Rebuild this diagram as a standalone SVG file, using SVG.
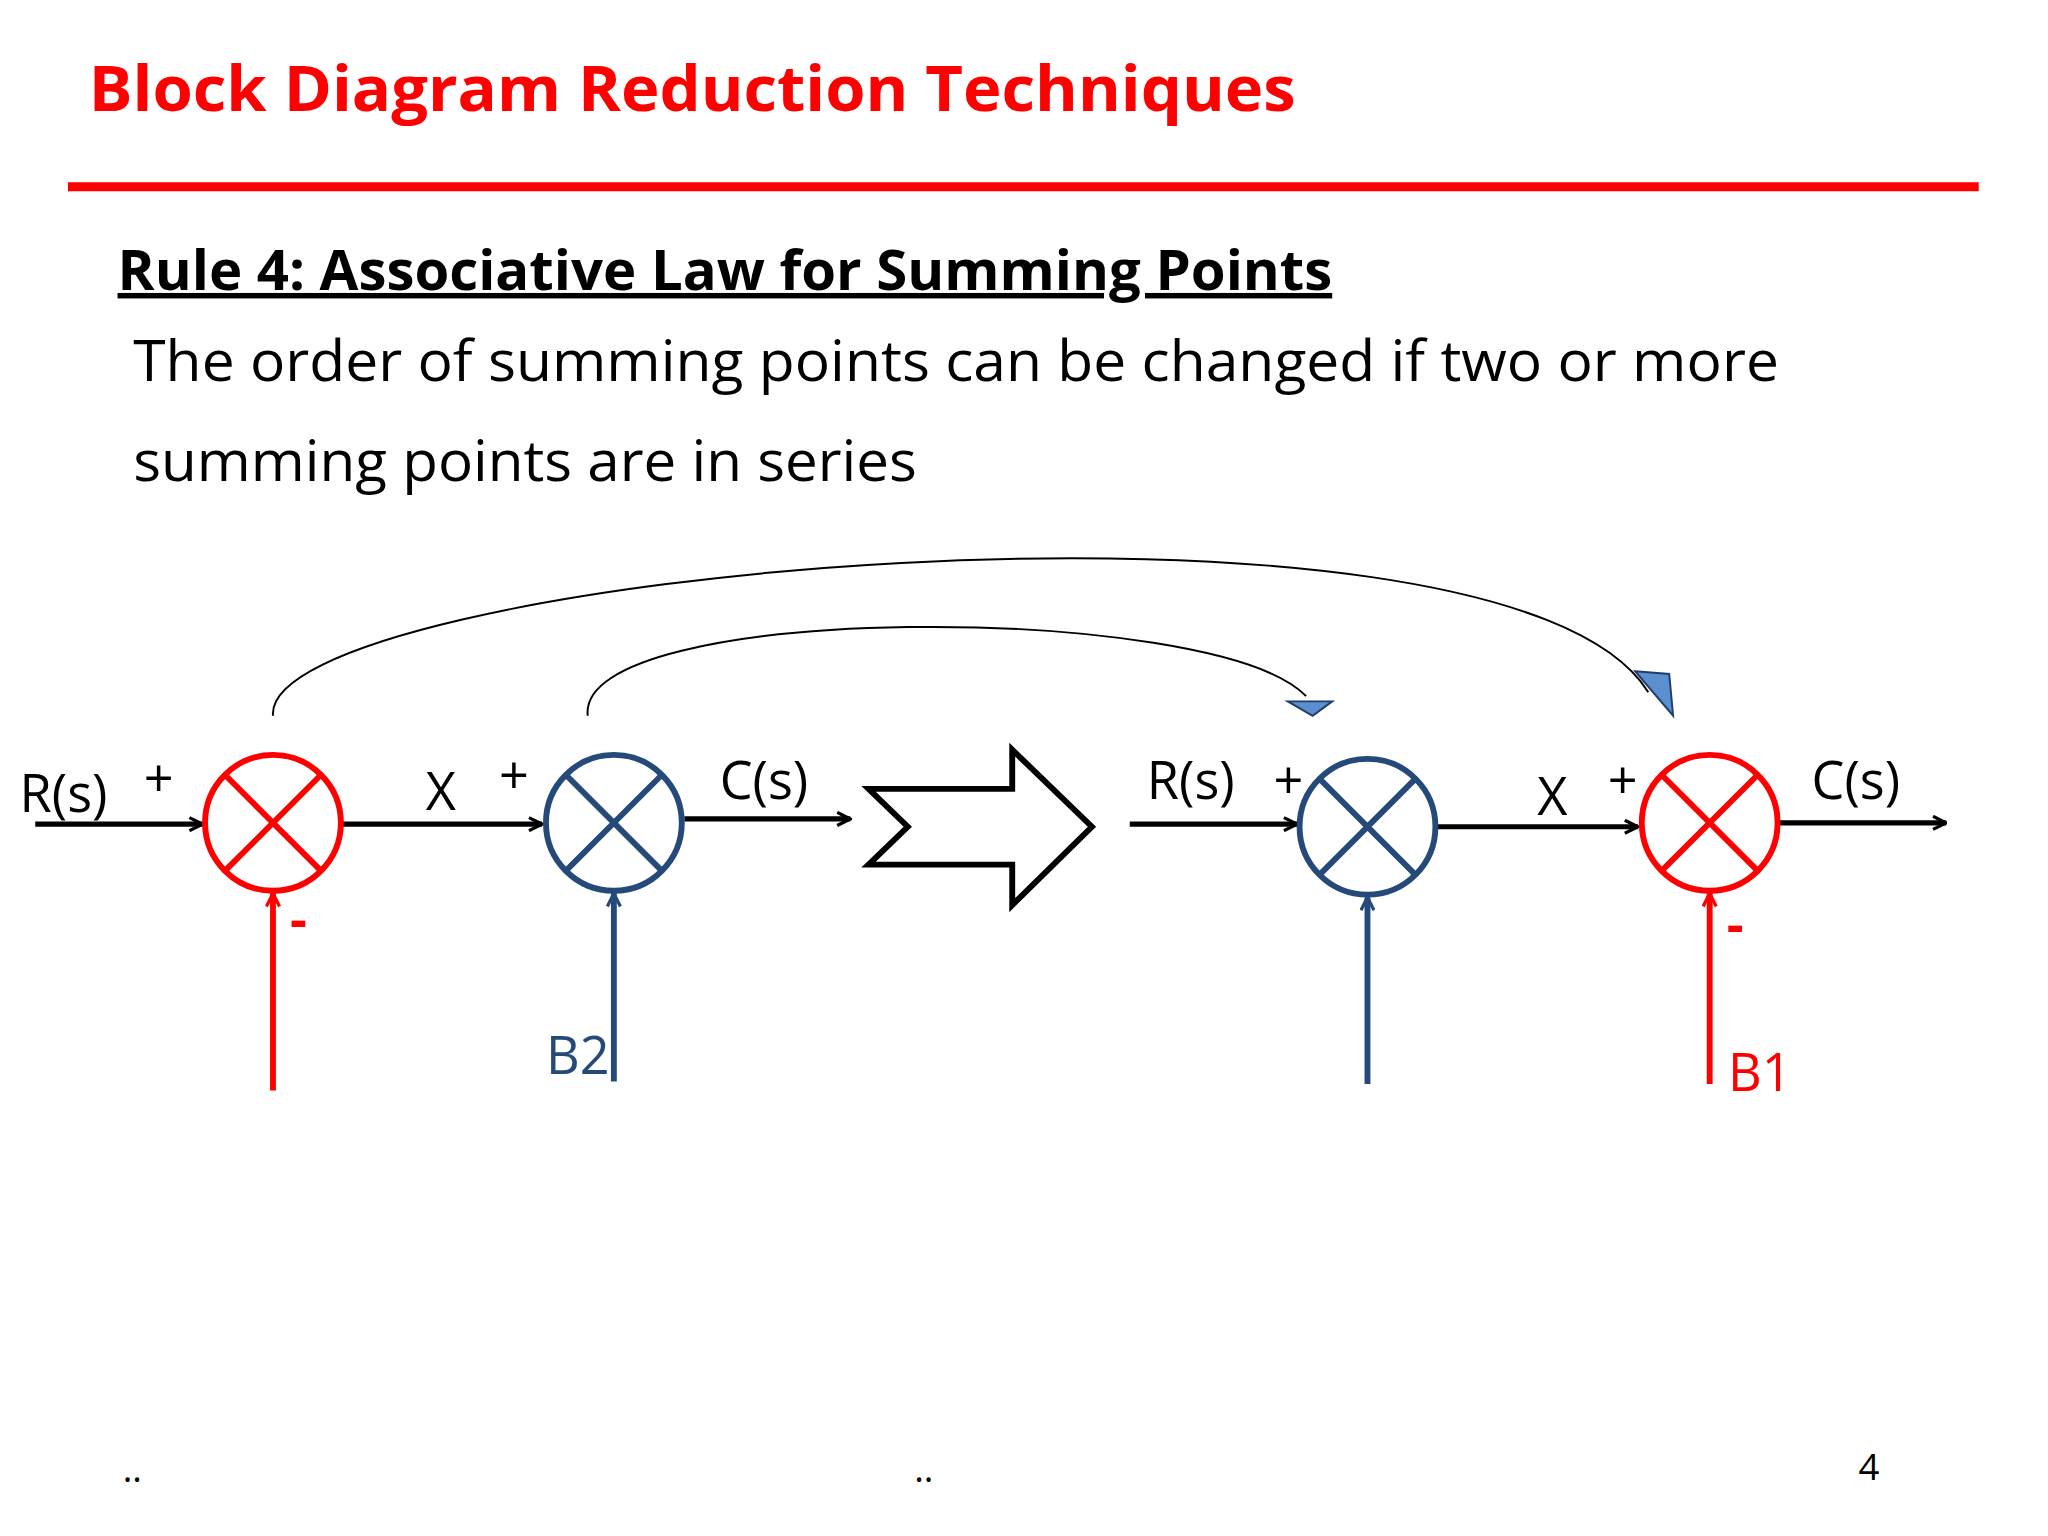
<svg xmlns="http://www.w3.org/2000/svg" width="2048" height="1536" viewBox="0 0 2048 1536">
<style>
text{font-family:"Open Sans","Liberation Sans",sans-serif}
.k{stroke:#000;stroke-width:4;fill:none}
.r{stroke:#f00;stroke-width:4.5;fill:none}
.b{stroke:#254a7a;stroke-width:4.5;fill:none}
.lbl{font-size:40px;fill:#000}
</style>
<defs>
<marker id="ak" viewBox="0 0 12 12" refX="11" refY="6" markerWidth="12" markerHeight="12" markerUnits="userSpaceOnUse" orient="auto"><path d="M1,1 L11,6 L1,11" fill="none" stroke="#000" stroke-width="2.5"/></marker>
<marker id="ar" viewBox="0 0 12 12" refX="11" refY="6" markerWidth="12" markerHeight="12" markerUnits="userSpaceOnUse" orient="auto"><path d="M1,1 L11,6 L1,11" fill="none" stroke="#f00" stroke-width="2.5"/></marker>
<marker id="ab" viewBox="0 0 12 12" refX="11" refY="6" markerWidth="12" markerHeight="12" markerUnits="userSpaceOnUse" orient="auto"><path d="M1,1 L11,6 L1,11" fill="none" stroke="#254a7a" stroke-width="2.5"/></marker>
</defs>
<rect width="2048" height="1536" fill="#fff"/>
<g transform="scale(1.3061)">
<text x="68" y="85" font-size="48" font-weight="bold" fill="#f00" textLength="924" lengthAdjust="spacingAndGlyphs">Block Diagram Reduction Techniques</text>
<line x1="52" y1="143" x2="1515" y2="143" stroke="#f00" stroke-width="7"/>
<text x="90" y="222" font-size="42" font-weight="bold" text-decoration="underline" fill="#000" textLength="930" lengthAdjust="spacingAndGlyphs">Rule 4: Associative Law for Summing Points</text>
<text x="102" y="292" font-size="44" fill="#000" textLength="1260" lengthAdjust="spacingAndGlyphs">The order of summing points can be changed if two or more</text>
<text x="102" y="368" font-size="44" fill="#000" textLength="600" lengthAdjust="spacingAndGlyphs">summing points are in series</text>

<g id="connectors">
<line class="k" x1="27" y1="631" x2="155" y2="631" marker-end="url(#ak)"/>
<line class="k" x1="262" y1="631" x2="415" y2="631" marker-end="url(#ak)"/>
<line class="k" x1="524" y1="627" x2="651" y2="627" marker-end="url(#ak)"/>
<line class="k" x1="865" y1="631" x2="993" y2="631" marker-end="url(#ak)"/>
<line class="k" x1="1100" y1="633" x2="1254" y2="633" marker-end="url(#ak)"/>
<line class="k" x1="1362" y1="630" x2="1490" y2="630" marker-end="url(#ak)"/>
<line class="r" x1="209" y1="835" x2="209" y2="684" marker-end="url(#ar)"/>
<line class="b" x1="470" y1="828" x2="470" y2="684" marker-end="url(#ab)"/>
<line class="b" x1="1047" y1="830" x2="1047" y2="687" marker-end="url(#ab)"/>
<line class="r" x1="1309" y1="830" x2="1309" y2="684" marker-end="url(#ar)"/>
<path d="M209,548 C200,440 1150,350 1262,530" fill="none" stroke="#000" stroke-width="1.5"/>
<path d="M450,548 C440,460 930,460 1000,533" fill="none" stroke="#000" stroke-width="1.5"/>
<polygon points="1252,514 1278,516 1281,548" fill="#5b8fd0" stroke="#1f3f6a" stroke-width="1.5"/>
<polygon points="986,537 1020,537 1005,548" fill="#5b8fd0" stroke="#1f3f6a" stroke-width="1.5"/>
</g>

<g id="sum1"><circle class="r" cx="209" cy="630" r="52"/><path class="r" d="M172,593 L246,667 M246,593 L172,667"/></g>
<g id="sum2"><circle class="b" cx="470" cy="630" r="52"/><path class="b" d="M433,593 L507,667 M507,593 L433,667"/></g>
<g id="sum3"><circle class="b" cx="1047" cy="633" r="52"/><path class="b" d="M1010,596 L1084,670 M1084,596 L1010,670"/></g>
<g id="sum4"><circle class="r" cx="1309" cy="630" r="52"/><path class="r" d="M1272,593 L1346,667 M1346,593 L1272,667"/></g>

<g id="bigarrow"><polygon points="665,604 775,604 775,574 836,633 775,693 775,662 665,662 695,633" fill="#fff" stroke="#000" stroke-width="4.5" stroke-linejoin="miter"/></g>

<g id="labels">
<text class="lbl" x="15" y="622">R(s)</text>
<text class="lbl" x="110" y="610">+</text>
<text x="222" y="718" font-size="40" font-weight="bold" fill="#f00">-</text>
<text class="lbl" x="326" y="620">X</text>
<text class="lbl" x="382" y="608">+</text>
<text class="lbl" x="551" y="612">C(s)</text>
<text x="418" y="822" font-size="40" fill="#254a7a">B2</text>
<text class="lbl" x="878" y="612">R(s)</text>
<text class="lbl" x="975" y="612">+</text>
<text class="lbl" x="1177" y="624">X</text>
<text class="lbl" x="1231" y="612">+</text>
<text class="lbl" x="1387" y="612">C(s)</text>
<text x="1322" y="722" font-size="40" font-weight="bold" fill="#f00">-</text>
<text x="1323" y="835" font-size="40" fill="#f00">B1</text>
</g>
<text x="94" y="1135" font-size="28" fill="#000">..</text>
<text x="700" y="1135" font-size="28" fill="#000">..</text>
<text x="1423" y="1133" font-size="28" fill="#000">4</text>
</g>
</svg>
